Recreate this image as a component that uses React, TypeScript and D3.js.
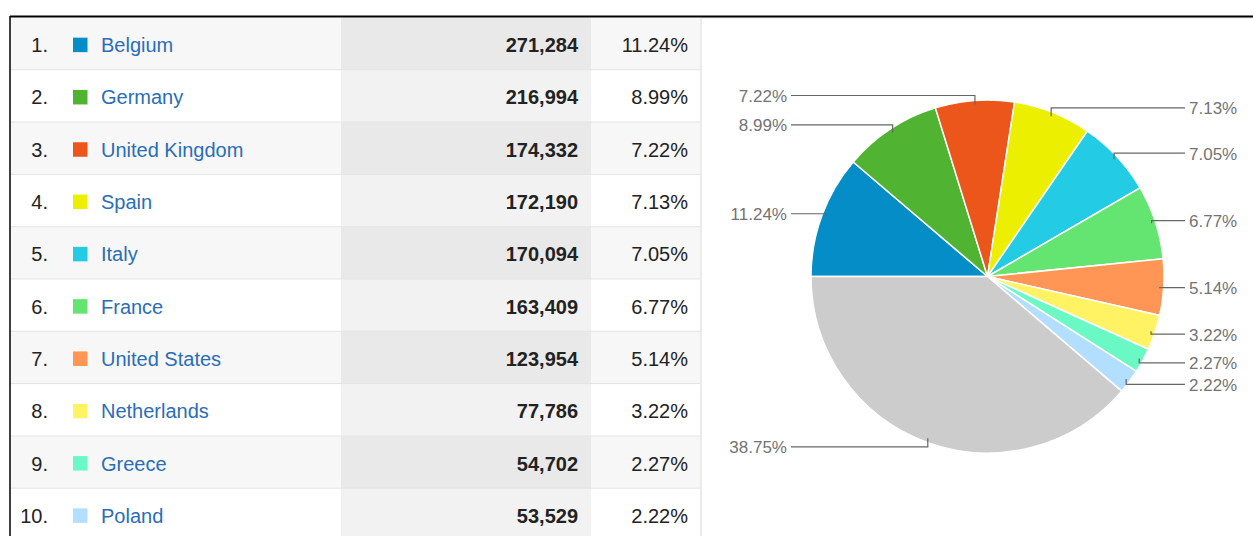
import React from "react";
import * as d3 from "d3";

// Top 10 countries by visits, plus the rest lumped together
const countries = ["Belgium", "Germany", "United Kingdom", "Spain", "Italy", "France", "United States", "Netherlands", "Greece", "Poland"];
const visits = [271284, 216994, 174332, 172190, 170094, 163409, 123954, 77786, 54702, 53529];
const shares = [11.24, 8.99, 7.22, 7.13, 7.05, 6.77, 5.14, 3.22, 2.27, 2.22];
const otherShare = 38.75;

const palette = ["#058dc7", "#50b432", "#ed561b", "#edef00", "#24cbe5", "#64e572", "#ff9655", "#fff263", "#6af9c4", "#b2deff"];
const otherColor = "#cccccc";

const W = 1253;
const H = 536;
const font = "'Liberation Sans', Arial, sans-serif";

const App: React.FC = () => {
    // table layout
    const tableLeft = 10;
    const valueLeft = 341;
    const pctLeft = 591;
    const tableRight = 701;
    const rowH = 52.3;
    const top = 18;

    const y = d3.scaleBand<number>()
        .domain(d3.range(countries.length))
        .range([top, top + rowH * countries.length]);

    const fmt = d3.format(",");

    // pie layout
    const cx = 987.5;
    const cy = 276.5;
    const r = 176.5;

    const sliceValues = [...shares, otherShare];
    const sliceColors = [...palette, otherColor];
    const arcs = d3.pie<number>()
        .sort(null)
        .value((d) => d)
        .startAngle(-Math.PI / 2)
        .endAngle(1.5 * Math.PI)(sliceValues);
    const arc = d3.arc<d3.PieArcDatum<number>>().innerRadius(0).outerRadius(r);

    const labels = arcs.map((a, i) => {
        const mid = (a.startAngle + a.endAngle) / 2;
        const ax = cx + (r - 4) * Math.sin(mid);
        const ay = cy - (r - 4) * Math.cos(mid);
        const ly = cy - (r + 5) * Math.cos(mid);
        const right = Math.sin(mid) >= 0;
        return { i, ax, ay, ly, right, text: `${sliceValues[i].toFixed(2)}%` };
    });

    return (
        <div style={{ position: "absolute", left: 0, top: 0 }}>
            <svg width={W} height={H} style={{ display: "block", fontFamily: font }}>
                <rect x={0} y={0} width={W} height={H} fill="#ffffff" />

                {countries.map((c, i) => {
                    const y0 = y(i)!;
                    const odd = i % 2 === 0;
                    const mid = y0 + rowH / 2;
                    return (
                        <g key={c}>
                            <rect x={tableLeft} y={y0} width={valueLeft - tableLeft} height={rowH} fill={odd ? "#f7f7f7" : "#ffffff"} />
                            <rect x={valueLeft} y={y0} width={pctLeft - valueLeft} height={rowH} fill={odd ? "#e9e9e9" : "#f2f2f2"} />
                            <rect x={pctLeft} y={y0} width={tableRight - pctLeft} height={rowH} fill={odd ? "#f7f7f7" : "#ffffff"} />
                            <line x1={tableLeft} x2={tableRight} y1={y0 + rowH} y2={y0 + rowH} stroke="#e4e4e4" strokeWidth={2} />
                            <text x={48} y={mid + 8} textAnchor="end" fontSize={20} fill="#222">{`${i + 1}.`}</text>
                            <rect x={73} y={mid - 6.5} width={14.5} height={14.5} fill={palette[i]} />
                            <text x={101} y={mid + 8} fontSize={20} fill="#2a6db8">{c}</text>
                            <text x={578} y={mid + 8} textAnchor="end" fontSize={20} fontWeight="bold" fill="#222">{fmt(visits[i])}</text>
                            <text x={688} y={mid + 8} textAnchor="end" fontSize={20} fill="#222">{`${shares[i].toFixed(2)}%`}</text>
                        </g>
                    );
                })}

                <line x1={tableRight} x2={tableRight} y1={top} y2={H} stroke="#ebebeb" strokeWidth={2} />
                <line x1={tableRight + 1} x2={W} y1={18} y2={18} stroke="#f3f3f3" strokeWidth={2} />
                <line x1={tableLeft} x2={tableLeft} y1={16} y2={H} stroke="#000" strokeWidth={1.5} />
                <line x1={tableLeft} x2={W} y1={16.5} y2={16.5} stroke="#000" strokeWidth={2} />

                <g transform={`translate(${cx},${cy})`}>
                    {arcs.map((a, i) => (
                        <path key={i} d={arc(a)!} fill={sliceColors[i]} stroke="#ffffff" strokeWidth={1.5} />
                    ))}
                </g>

                {labels.map((l) => {
                    const endX = l.right ? 1185 : 791;
                    return (
                        <g key={l.i}>
                            <polyline
                                points={`${l.ax},${l.ay} ${l.ax},${l.ly} ${endX},${l.ly}`}
                                fill="none"
                                stroke="#666"
                                strokeWidth={1.2}
                            />
                            <text
                                x={l.right ? 1189 : 787}
                                y={l.ly + 6.5}
                                textAnchor={l.right ? "start" : "end"}
                                fontSize={17}
                                fill="#737373"
                            >
                                {l.text}
                            </text>
                        </g>
                    );
                })}
            </svg>
        </div>
    );
};

export default App;
